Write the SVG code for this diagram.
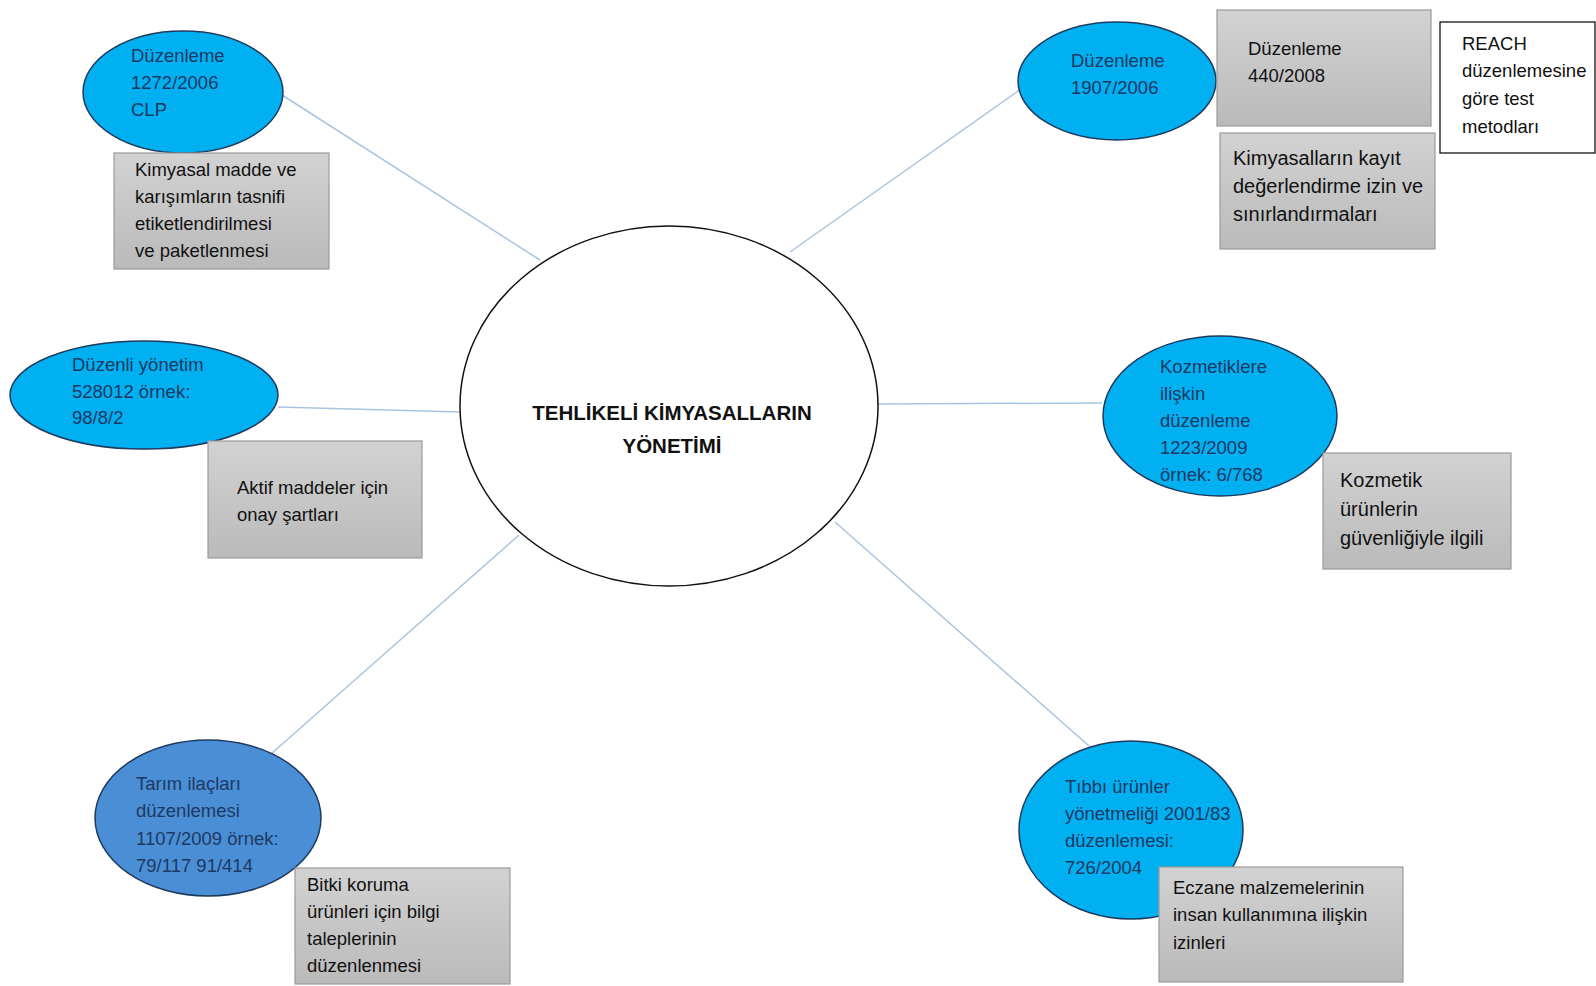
<svg xmlns="http://www.w3.org/2000/svg" width="1596" height="986" viewBox="0 0 1596 986">
  <style>
    .link { stroke: #a9c4e0; stroke-width: 1.5; fill: none; }
    .oval { fill: #00b0f0; stroke: #1f3a5f; stroke-width: 1.5; }
    .oval-dark { fill: #4a8fd6; stroke: #1f3a5f; stroke-width: 1.5; }
    .box { fill: url(#greyFill); stroke: #9a9a9a; stroke-width: 1.2; }
    .plain { fill: #ffffff; stroke: #000000; stroke-width: 1.2; }
    .otext { font-family: "Liberation Sans", Arial, sans-serif; font-size: 18.5px; fill: #1f3864; }
    .btext { font-family: "Liberation Sans", Arial, sans-serif; font-size: 18.5px; fill: #111111; }
    .btext-l { font-family: "Liberation Sans", Arial, sans-serif; font-size: 20px; fill: #111111; }
    .title { font-family: "Liberation Sans", Arial, sans-serif; font-size: 20.5px; font-weight: bold; fill: #111111; text-anchor: middle; }
  </style>
  <defs>
    <linearGradient id="greyFill" x1="0" y1="0" x2="0" y2="1">
      <stop offset="0" stop-color="#d2d2d2"/>
      <stop offset="1" stop-color="#bababa"/>
    </linearGradient>
  </defs>
  <rect width="1596" height="986" fill="#ffffff"/>

  <!-- spokes from the central topic -->
  <g id="connectors">
    <line class="link" x1="282" y1="95" x2="540" y2="260"/>
    <line class="link" x1="1021" y1="89" x2="790" y2="252"/>
    <line class="link" x1="278" y1="407" x2="460" y2="412"/>
    <line class="link" x1="877" y1="404" x2="1102" y2="403"/>
    <line class="link" x1="519" y1="535" x2="271" y2="754"/>
    <line class="link" x1="835" y1="522" x2="1089" y2="746"/>
  </g>

  <g id="center">
    <ellipse cx="669" cy="406" rx="209" ry="180" fill="#ffffff" stroke="#111111" stroke-width="1.5"/>
    <text class="title" x="672" y="420">TEHLİKELİ KİMYASALLARIN</text>
    <text class="title" x="672" y="453">YÖNETİMİ</text>
  </g>

  <g id="clp">
    <ellipse class="oval" cx="183" cy="92" rx="100" ry="61"/>
    <text class="otext" x="131" y="62">Düzenleme</text>
    <text class="otext" x="131" y="89">1272/2006</text>
    <text class="otext" x="131" y="116">CLP</text>
  </g>
  <g id="clp-note">
    <rect class="box" x="114" y="153" width="215" height="116"/>
    <text class="btext" x="135" y="176">Kimyasal madde ve</text>
    <text class="btext" x="135" y="203">karışımların tasnifi</text>
    <text class="btext" x="135" y="230">etiketlendirilmesi</text>
    <text class="btext" x="135" y="257">ve paketlenmesi</text>
  </g>

  <g id="reach">
    <ellipse class="oval" cx="1117" cy="81" rx="99" ry="59"/>
    <text class="otext" x="1071" y="67">Düzenleme</text>
    <text class="otext" x="1071" y="94">1907/2006</text>
  </g>
  <g id="reach-440">
    <rect class="box" x="1217" y="10" width="214" height="116"/>
    <text class="btext" x="1248" y="55">Düzenleme</text>
    <text class="btext" x="1248" y="82">440/2008</text>
  </g>
  <g id="reach-test">
    <rect class="plain" x="1440" y="22" width="155" height="131"/>
    <text class="btext" x="1462" y="50">REACH</text>
    <text class="btext" x="1462" y="77">düzenlemesine</text>
    <text class="btext" x="1462" y="105">göre test</text>
    <text class="btext" x="1462" y="133">metodları</text>
  </g>
  <g id="reach-note">
    <rect class="box" x="1220" y="133" width="215" height="116"/>
    <text class="btext-l" x="1233" y="165">Kimyasalların kayıt</text>
    <text class="btext-l" x="1233" y="193">değerlendirme izin ve</text>
    <text class="btext-l" x="1233" y="221">sınırlandırmaları</text>
  </g>

  <g id="biocide">
    <ellipse class="oval" cx="144" cy="395" rx="134" ry="54"/>
    <text class="otext" x="72" y="371">Düzenli yönetim</text>
    <text class="otext" x="72" y="398">528012 örnek:</text>
    <text class="otext" x="72" y="424">98/8/2</text>
  </g>
  <g id="biocide-note">
    <rect class="box" x="208" y="441" width="214" height="117"/>
    <text class="btext" x="237" y="494">Aktif maddeler için</text>
    <text class="btext" x="237" y="521">onay şartları</text>
  </g>

  <g id="cosmetics">
    <ellipse class="oval" cx="1220" cy="416" rx="117" ry="80"/>
    <text class="otext" x="1160" y="373">Kozmetiklere</text>
    <text class="otext" x="1160" y="400">ilişkin</text>
    <text class="otext" x="1160" y="427">düzenleme</text>
    <text class="otext" x="1160" y="454">1223/2009</text>
    <text class="otext" x="1160" y="481">örnek: 6/768</text>
  </g>
  <g id="cosmetics-note">
    <rect class="box" x="1323" y="453" width="188" height="116"/>
    <text class="btext-l" x="1340" y="487">Kozmetik</text>
    <text class="btext-l" x="1340" y="516">ürünlerin</text>
    <text class="btext-l" x="1340" y="545">güvenliğiyle ilgili</text>
  </g>

  <g id="pesticides">
    <ellipse class="oval-dark" cx="208" cy="818" rx="113" ry="78"/>
    <text class="otext" x="136" y="790">Tarım ilaçları</text>
    <text class="otext" x="136" y="817">düzenlemesi</text>
    <text class="otext" x="136" y="845">1107/2009 örnek:</text>
    <text class="otext" x="136" y="872">79/117 91/414</text>
  </g>
  <g id="pesticides-note">
    <rect class="box" x="295" y="868" width="215" height="116"/>
    <text class="btext" x="307" y="891">Bitki koruma</text>
    <text class="btext" x="307" y="918">ürünleri için bilgi</text>
    <text class="btext" x="307" y="945">taleplerinin</text>
    <text class="btext" x="307" y="972">düzenlenmesi</text>
  </g>

  <g id="medicines">
    <ellipse class="oval" cx="1131" cy="830" rx="112" ry="89"/>
    <text class="otext" x="1065" y="793">Tıbbı ürünler</text>
    <text class="otext" x="1065" y="820">yönetmeliği 2001/83</text>
    <text class="otext" x="1065" y="847">düzenlemesi:</text>
    <text class="otext" x="1065" y="874">726/2004</text>
  </g>
  <g id="medicines-note">
    <rect class="box" x="1159" y="867" width="244" height="115"/>
    <text class="btext" x="1173" y="894">Eczane malzemelerinin</text>
    <text class="btext" x="1173" y="921">insan kullanımına ilişkin</text>
    <text class="btext" x="1173" y="949">izinleri</text>
  </g>
</svg>
